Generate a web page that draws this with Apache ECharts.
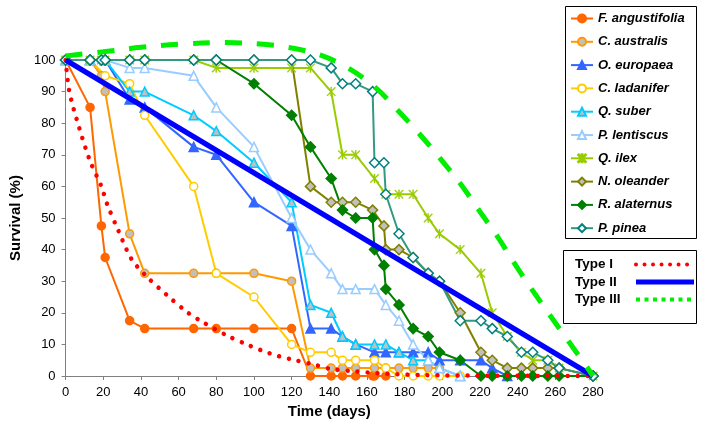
<!DOCTYPE html>
<html>
<head>
<meta charset="utf-8">
<script src="https://cdn.jsdelivr.net/npm/echarts@6/dist/echarts.min.js"></script>
<style>
  html, body { margin: 0; padding: 0; background: #fff; }
  #chart { width: 701px; height: 431px; }
</style>
</head>
<body>
<div id="chart"></div>
<script>
// Census days (time since sowing) shared by all species
const days = [0, 13, 19, 21, 34, 42, 68, 80, 100, 120, 130, 141, 147, 154, 163, 164, 169, 170,
              177, 184.5, 192.5, 198.5, 209.5, 220.5, 226.5, 234.5, 242, 248, 256, 262, 280];

// Survival (%) per species on each census day (null = not censused / no longer alive)
const fAngustifolia = [100, 85, 47.5, 37.5, 17.5, 15, 15, 15, 15, 15, 0, 0, 0, 0, 0, 0, null, 0,
                       null, null, null, null, null, null, null, null, null, null, null, null, null];
const cAustralis    = [100, 100, 95, 90, 45, 32.5, 32.5, 32.5, 32.5, 30, 2.5, 2.5, 2.5, 2.5, null, 2.5, null, 2.5,
                       2.5, 2.5, 2.5, 2.5, null, null, null, null, null, null, null, null, null];
const oEuropaea     = [100, 100, null, 100, 87.5, 85, 72.5, 70, 55, 47.5, 15, 15, 12.5, 10, null, 7.5, null, 7.5,
                       7.5, 7.5, 7.5, 5, 5, 5, 2.5, 0, null, null, null, null, null];
const cLadanifer    = [100, 100, null, 95, 92.5, 82.5, 60, 32.5, 25, 10, 7.5, 7.5, 5, 5, null, 5, null, 2.5,
                       0, 0, 0, 0, 0, null, null, null, null, null, null, null, null];
const qSuber        = [100, 100, null, 100, 90, 90, 82.5, 77.5, 67.5, 55, 22.5, 20, 12.5, 10, null, 10, null, 10,
                       7.5, 5, 5, 2.5, 0, null, null, null, null, null, null, null, null];
const pLentiscus    = [100, 100, null, 100, 97.5, 97.5, 95, 85, 72.5, 50, 40, 32.5, 27.5, 27.5, null, 27.5, null, 22.5,
                       17.5, 10, 5, 2.5, 0, null, null, null, null, null, null, null, null];
const qIlex         = [100, 100, 100, 100, 100, 100, 100, 97.5, 97.5, 97.5, 97.5, 90, 70, 70, null, 62.5, null, 57.5,
                       57.5, 57.5, 50, 45, 40, 32.5, 20, 12.5, 7.5, 5, 5, 2.5, 0];
const nOleander     = [100, 100, 100, 100, 100, 100, 100, 100, 100, 100, 60, 55, 55, 55, 52.5, null, 47.5, 40,
                       40, 37.5, 32.5, 30, 20, 7.5, 5, 2.5, 2.5, 2.5, 2.5, 2.5, 0];
const rAlaternus    = [100, 100, 100, 100, 100, 100, 100, 100, 92.5, 82.5, 72.5, 62.5, 52.5, 50, 50, 40, 35, 27.5,
                       22.5, 15, 12.5, 7.5, 5, 0, 0, 0, 0, 0, 0, 0, 0];
const pPinea        = [100, 100, 100, 100, 100, 100, 100, 100, 100, 100, 100, 97.5, 92.5, 92.5, 90, 67.5, 67.5, 57.5,
                       45, 37.5, 32.5, 30, 17.5, 17.5, 15, 12.5, 7.5, 7.5, 5, 2.5, 0];

const speciesNames = ['F. angustifolia', 'C. australis', 'O. europaea', 'C. ladanifer', 'Q. suber',
                      'P. lentiscus', 'Q. ilex', 'N. oleander', 'R. alaternus', 'P. pinea'];
const speciesValues = [fAngustifolia, cAustralis, oEuropaea, cLadanifer, qSuber,
                       pLentiscus, qIlex, nOleander, rAlaternus, pPinea];

// Theoretical survivorship curves
const typeIDays    = [0, 2, 7, 13, 19, 22, 28, 35, 43, 54, 65, 73, 86, 95, 104, 113, 122, 132, 141, 151, 161, 170, 190, 220, 280];
const typeIValues  = [100, 90, 79, 68, 60, 54.5, 46, 37, 31.5, 25.5, 20, 17, 12.7, 10.3, 8.1, 6.3, 5, 3.6, 2.2, 1.6, 1.1, 0.7, 0.3, 0.1, 0];
const typeIIDays   = [0, 280];
const typeIIValues = [100, 0];
const typeIIIDays  = [0, 20, 40, 60, 85, 105, 120, 135, 150, 165, 176, 188, 200, 210, 220, 230, 239, 248, 258, 267, 277, 280];
const typeIIIValues = [101.3, 102.6, 104, 105, 105.5, 105, 103.8, 101.6, 97.5, 91, 84.3, 76.5, 68, 60.5, 52, 43.5, 35, 27, 18.5, 11, 2.6, 0];

// Star / asterisk marker outline
const asterisk = 'path://M4.4,0 L5.6,0 L5.6,10 L4.4,10 Z M0.8,0 L10,9.2 L9.2,10 L0,0.8 Z M9.2,0 L10,0.8 L0.8,10 L0,9.2 Z';

const speciesStyles = [
  { line: '#FF6600', symbol: 'circle',   fill: '#FF6600', border: '#FF6600', size: 8 },
  { line: '#FF9900', symbol: 'circle',   fill: '#C0C0C0', border: '#FF9900', size: 8 },
  { line: '#3366FF', symbol: 'triangle', fill: '#3366FF', border: '#3366FF', size: 9 },
  { line: '#FFCC00', symbol: 'circle',   fill: '#FFFFFF', border: '#FFCC00', size: 8 },
  { line: '#00CCFF', symbol: 'triangle', fill: '#C0C0C0', border: '#00CCFF', size: 9 },
  { line: '#99CCFF', symbol: 'triangle', fill: '#FFFFFF', border: '#99CCFF', size: 9 },
  { line: '#99CC00', symbol: asterisk,   fill: '#99CC00', border: '#99CC00', size: 9 },
  { line: '#808000', symbol: 'diamond',  fill: '#C0C0C0', border: '#808000', size: 10 },
  { line: '#008000', symbol: 'diamond',  fill: '#008000', border: '#008000', size: 10 },
  { line: '#339980', symbol: 'diamond',  fill: '#FFFFFF', border: '#008080', size: 10 }
];

function toPairs(xs, ys) {
  return xs.map((x, i) => [x, ys[i]]).filter(p => p[1] !== null);
}

const FONT = '"Liberation Sans", Arial, sans-serif';

const series = speciesNames.map((name, i) => {
  const s = speciesStyles[i];
  return {
    name: name,
    type: 'line',
    data: toPairs(days, speciesValues[i]),
    symbol: s.symbol,
    symbolSize: s.size,
    showSymbol: true,
    lineStyle: { color: s.line, width: 2 },
    itemStyle: { color: s.fill, borderColor: s.border, borderWidth: s.symbol === asterisk ? 0.4 : 1.5 },
    emphasis: { disabled: true },
    z: 2
  };
});

series.push({
  name: 'Type I', type: 'line', data: toPairs(typeIDays, typeIValues),
  symbol: 'none', smooth: 0.3, clip: false,
  lineStyle: { color: '#FF0000', width: 4.5, type: [0.01, 10], cap: 'round' },
  itemStyle: { color: '#FF0000' },
  emphasis: { disabled: true }, z: 3
});
series.push({
  name: 'Type II', type: 'line', data: toPairs(typeIIDays, typeIIValues),
  symbol: 'none', clip: false,
  lineStyle: { color: '#0000FF', width: 5.5 },
  itemStyle: { color: '#0000FF' },
  emphasis: { disabled: true }, z: 3
});
series.push({
  name: 'Type III', type: 'line', data: toPairs(typeIIIDays, typeIIIValues),
  symbol: 'none', smooth: 0.35, clip: false,
  lineStyle: { color: '#00EE00', width: 5, type: [17, 15], cap: 'butt' },
  itemStyle: { color: '#00EE00' },
  emphasis: { disabled: true }, z: 3
});

const axisLabelStyle = { color: '#000', fontSize: 13, fontFamily: FONT };
const axisNameStyle = { color: '#000', fontSize: 15, fontWeight: 'bold', fontFamily: FONT };

const hiddenMarker = { opacity: 0 };

const option = {
  animation: false,
  backgroundColor: '#fff',
  grid: { left: 61, right: 108, top: 60, bottom: 55, containLabel: false },
  xAxis: {
    type: 'value', min: 0, max: 280, interval: 20,
    name: 'Time (days)', nameLocation: 'middle', nameGap: 27, nameTextStyle: axisNameStyle,
    axisLine: { show: true, lineStyle: { color: '#808080', width: 1 } },
    axisTick: { show: true, length: 4, lineStyle: { color: '#808080' } },
    axisLabel: Object.assign({ margin: 10 }, axisLabelStyle),
    splitLine: { show: false }
  },
  yAxis: {
    type: 'value', min: 0, max: 100, interval: 10,
    name: 'Survival (%)', nameLocation: 'middle', nameGap: 37, nameRotate: 90, nameTextStyle: axisNameStyle,
    axisLine: { show: true, lineStyle: { color: '#808080', width: 1 } },
    axisTick: { show: true, length: 4, lineStyle: { color: '#808080' } },
    axisLabel: Object.assign({ margin: 10 }, axisLabelStyle),
    splitLine: { show: false }
  },
  graphic: [
    { type: 'rect', z: 3, shape: { x: 565.5, y: 6.5, width: 131, height: 232 },
      style: { fill: '#fff', stroke: '#000', lineWidth: 1 } },
    { type: 'rect', z: 3, shape: { x: 563.5, y: 250.5, width: 133, height: 73 },
      style: { fill: '#fff', stroke: '#000', lineWidth: 1 } }
  ],
  legend: [
    {
      data: speciesNames,
      orient: 'vertical', left: 570, top: 11, padding: 0,
      itemWidth: 22, itemHeight: 10, itemGap: 8.3,
      selectedMode: false,
      textStyle: { color: '#000', fontSize: 13, fontStyle: 'italic', fontWeight: 'bold', fontFamily: FONT, lineHeight: 15 }
    },
    {
      data: [
        { name: 'Type I',   itemStyle: hiddenMarker, lineStyle: { color: '#FF0000', width: 4, type: [0.01, 8.5], cap: 'round' } },
        { name: 'Type II',  itemStyle: hiddenMarker, lineStyle: { color: '#0000FF', width: 5, type: 'solid' } },
        { name: 'Type III', itemStyle: hiddenMarker, lineStyle: { color: '#00EE00', width: 4, type: [4, 4.5], cap: 'butt' } }
      ],
      orient: 'vertical', align: 'right', left: 575, top: 257.5, padding: 0,
      itemWidth: 58, itemHeight: 12, itemGap: 3.5,
      selectedMode: false,
      formatter: '{t|{name}}',
      textStyle: {
        color: '#000', fontFamily: FONT,
        rich: { t: { width: 56, align: 'left', fontSize: 13.5, fontWeight: 'bold', fontFamily: FONT, lineHeight: 15, color: '#000' } }
      }
    }
  ],
  series: series
};

const chart = echarts.init(document.getElementById('chart'), null, { renderer: 'canvas' });
chart.setOption(option);
</script>
</body>
</html>
